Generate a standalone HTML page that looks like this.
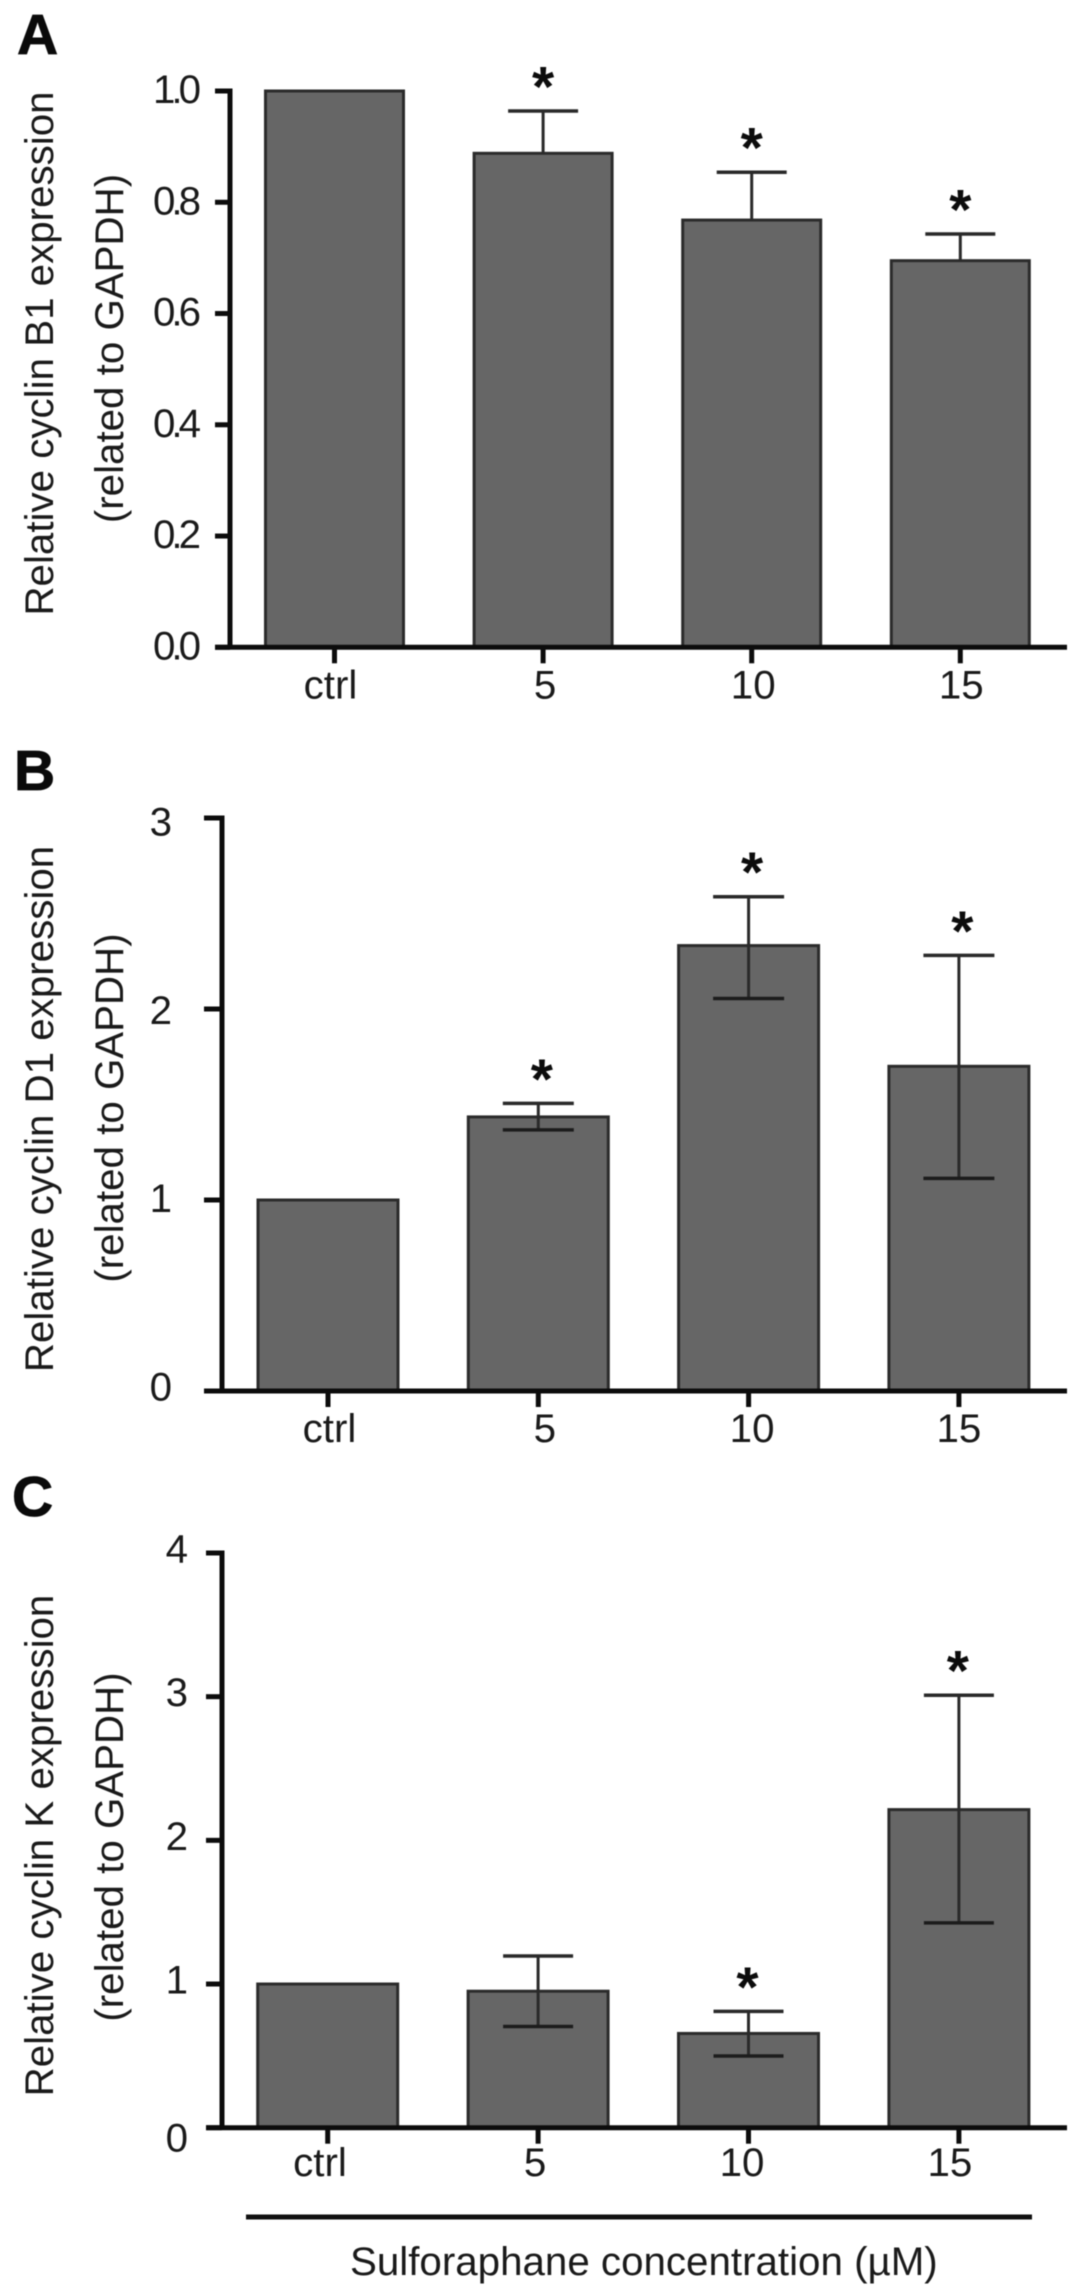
<!DOCTYPE html>
<html lang="en">
<head>
<meta charset="utf-8">
<title>Relative cyclin expression after sulforaphane treatment</title>
<style>
  html, body { margin: 0; padding: 0; background: #fff; }
  body { width: 1087px; height: 2296px; overflow: hidden; }
  svg { display: block; filter: blur(0.55px); font-family: "Liberation Sans", sans-serif; }
  text { fill: #1a1a1a; font-size: 40.3px; }
  .panel-letter { font-size: 57px; font-weight: 700; fill: #0a0a0a; stroke: #0a0a0a; stroke-width: 0.8px; }
</style>
</head>
<body>
<svg id="figure" xmlns="http://www.w3.org/2000/svg" width="1087" height="2296" viewBox="0 0 1087 2296">
  <text class="panel-letter" x="17" y="54">A</text>
  <text class="panel-letter" x="14" y="790">B</text>
  <text class="panel-letter" x="12" y="1516">C</text>

  <text text-anchor="middle" transform="translate(53,353.5) rotate(-90)">Relative cyclin B1 expression</text>
  <text text-anchor="middle" transform="translate(123,348.5) rotate(-90)">(related to GAPDH)</text>
  <text text-anchor="middle" transform="translate(53,1109) rotate(-90)">Relative cyclin D1 expression</text>
  <text text-anchor="middle" transform="translate(123,1108) rotate(-90)">(related to GAPDH)</text>
  <text text-anchor="middle" transform="translate(53,1845.5) rotate(-90)">Relative cyclin K expression</text>
  <text text-anchor="middle" transform="translate(123,1847) rotate(-90)">(related to GAPDH)</text>

  <line x1="246" y1="2217" x2="1032" y2="2217" stroke="#111" stroke-width="5"></line>
  <text x="350" y="2275">Sulforaphane concentration (µM)</text>
</svg>

<script>
// Shared categories
const categories = ['ctrl', '5', '10', '15'];

// Panel A: cyclin B1
const ticksA = ['0.0', '0.2', '0.4', '0.6', '0.8', '1.0'];
const valuesA = [1.0, 0.888, 0.768, 0.695];
const errHighA = [null, 0.964, 0.854, 0.743];
const errLowA = [null, null, null, null];
const starsA = [false, true, true, true];

// Panel B: cyclin D1
const ticksB = ['0', '1', '2', '3'];
const valuesB = [1.0, 1.435, 2.332, 1.70];
const errHighB = [null, 1.506, 2.588, 2.281];
const errLowB = [null, 1.367, 2.055, 1.113];
const starsB = [false, true, true, true];

// Panel C: cyclin K
const ticksC = ['0', '1', '2', '3', '4'];
const valuesC = [1.0, 0.95, 0.656, 2.214];
const errHighC = [null, 1.195, 0.81, 3.01];
const errLowC = [null, 0.704, 0.499, 1.426];
const starsC = [false, false, true, true];

const svg = document.getElementById('figure');
const NS = 'http://www.w3.org/2000/svg';

function make(tag, props) {
  const node = document.createElementNS(NS, tag);
  for (const k in props) node.setAttribute(k, props[k]);
  svg.appendChild(node);
  return node;
}

function drawPanel(p) {
  const maxTick = parseFloat(p.ticks[p.ticks.length - 1]);
  const y = function (v) { return p.y0 - (v / maxTick) * (p.y0 - p.yTop); };
  const x = function (i) { return p.x0 + p.step * i; };

  // Bars
  p.values.forEach(function (v, i) {
    const bar = make('rect', {
      x: x(i) - p.barW / 2, y: y(v), width: p.barW, height: p.y0 - y(v),
      fill: '#666', stroke: '#2b2b2b', 'stroke-width': 3
    });
    
    
  });

  // Error bars
  p.values.forEach(function (v, i) {
    const hi = p.errHigh[i];
    const lo = p.errLow[i];
    if (hi === null) return;
    const bottom = lo === null ? v : lo;
    const stem = make('line', {
      x1: x(i), x2: x(i), y1: y(hi), y2: y(bottom), stroke: '#2a2a2a', 'stroke-width': 3
    });
    
    
    const capHi = make('line', {
      x1: x(i) - p.capW / 2, x2: x(i) + p.capW / 2, y1: y(hi), y2: y(hi), stroke: '#2a2a2a', 'stroke-width': 3.5
    });
    
    
    if (lo !== null) {
      const capLo = make('line', {
        x1: x(i) - p.capW / 2, x2: x(i) + p.capW / 2, y1: y(lo), y2: y(lo), stroke: '#1c1c1c', 'stroke-width': 3.5
      });
      
      
    }
  });

  // Significance stars
  p.stars.forEach(function (show, i) {
    if (!show) return;
    const star = make('text', {
      x: x(i) + p.starShift, y: y(p.errHigh[i]) - 5, 'text-anchor': 'middle',
      style: 'font-size:57px;font-weight:700;fill:#0c0c0c'
    });
    star.textContent = '*';
    
    
  });

  // Axes
  const yAxis = make('line', {
    x1: p.axisX, x2: p.axisX, y1: p.yTop - 2.5, y2: p.y0, stroke: '#0c0c0c', 'stroke-width': 5
  });
  
  
  const xAxis = make('line', {
    x1: p.tickLeft, x2: 1067, y1: p.y0, y2: p.y0, stroke: '#0c0c0c', 'stroke-width': 5
  });
  
  

  // Y ticks and labels
  p.ticks.forEach(function (label) {
    const v = parseFloat(label);
    const tick = make('line', {
      x1: p.tickLeft, x2: p.axisX, y1: y(v), y2: y(v), stroke: '#0c0c0c', 'stroke-width': 5
    });
    
    
    const txt = make('text', {
      x: p.yLabelRight, y: y(v) + 14 + p.yLabelNudge(v), 'text-anchor': 'end',
      style: 'letter-spacing:' + p.yLabelSpacing + 'px'
    });
    txt.textContent = label;
    
    
  });

  // X ticks and labels
  categories.forEach(function (label, i) {
    const tick = make('line', {
      x1: x(i), x2: x(i), y1: p.y0, y2: p.y0 + 16, stroke: '#0c0c0c', 'stroke-width': 5
    });
    
    
    const txt = make('text', {
      x: x(i) + p.xLabelNudge[i], y: p.y0 + p.xLabelDrop, 'text-anchor': 'middle'
    });
    txt.textContent = label;
    
    
  });
}

drawPanel({
  id: 'a', ticks: ticksA, values: valuesA, errHigh: errHighA, errLow: errLowA, stars: starsA,
  y0: 647.3, yTop: 91, x0: 334.5, step: 208.6, barW: 138, capW: 70, axisX: 230, tickLeft: 215,
  yLabelRight: 197, yLabelSpacing: -4, yLabelNudge: function () { return -2; },
  xLabelNudge: [-4, 2, 1.5, 1], xLabelDrop: 51, starShift: 0
});

drawPanel({
  id: 'b', ticks: ticksB, values: valuesB, errHigh: errHighB, errLow: errLowB, stars: starsB,
  y0: 1391, yTop: 818, x0: 328, step: 210.3, barW: 140, capW: 71, axisX: 222, tickLeft: 204,
  yLabelRight: 172, yLabelSpacing: 0, yLabelNudge: function (v) { return -4.4 + 2.6 * v; },
  xLabelNudge: [1.5, 6.5, 3.5, 0], xLabelDrop: 51, starShift: 3.5
});

drawPanel({
  id: 'c', ticks: ticksC, values: valuesC, errHigh: errHighC, errLow: errLowC, stars: starsC,
  y0: 2127.7, yTop: 1553, x0: 327.7, step: 210.4, barW: 140, capW: 70, axisX: 222, tickLeft: 206,
  yLabelRight: 188, yLabelSpacing: 0, yLabelNudge: function (v) { return v === 0 ? 10 : -4.5; },
  xLabelNudge: [-7.7, -3, -6.5, -9], xLabelDrop: 48.5, starShift: -1
});
</script>
</body>
</html>
